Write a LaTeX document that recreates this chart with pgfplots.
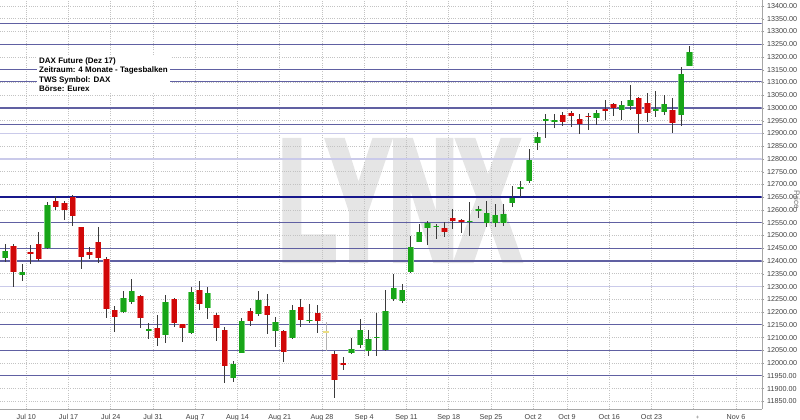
\documentclass[border=0pt]{standalone}
\usepackage{pgfplots}
\pgfplotsset{compat=1.18}
\usepackage{pgfplotstable}
\usepackage{graphicx}
\usepackage{fontspec}
\setmainfont{Liberation Sans}
\newfontfamily\wmfont[BoldFeatures={FakeBold=6}]{Liberation Sans}
\definecolor{upg}{RGB}{24,165,24}
\definecolor{upgl}{RGB}{120,210,120}
\definecolor{dnr}{RGB}{208,8,8}
\definecolor{dnrl}{RGB}{240,130,130}
\definecolor{wick}{RGB}{58,58,58}
\definecolor{neu}{RGB}{235,222,130}
\definecolor{lineMed}{RGB}{96,96,162}
\definecolor{lineDark}{RGB}{24,24,140}
\definecolor{lineLight}{RGB}{202,202,234}
\definecolor{gridc}{RGB}{195,195,195}
\definecolor{wm}{RGB}{229,229,229}

\pgfplotstableread{
x o h l c
-3 12412 12467 12395 12440
-1 12347 12389 12323 12357
2 12451 12630 12449 12620
11 12199 12282 12195 12254
12 12241 12330 12232 12283
14 12128 12157 12095 12132
16 12110 12268 12079 12241
19 12117 12297 12115 12280
21 12216 12297 12173 12275
24 11942 12007 11925 11997
25 12040 12177 12038 12165
27 12193 12282 12185 12246
29 12124 12180 12062 12160
31 12099 12226 12095 12210
33 12165 12232 12156 12169
38 12041 12098 12035 12054
39 12069 12173 12058 12130
40 12047 12128 12026 12095
41 12099 12196 12026 12103
42 12053 12287 12049 12206
43 12251 12350 12245 12293
44 12245 12310 12234 12287
45 12356 12497 12353 12454
46 12476 12546 12474 12513
47 12529 12556 12463 12548
48 12534 12546 12487 12538
52 12553 12630 12500 12557
53 12599 12615 12568 12603
54 12549 12637 12532 12589
55 12549 12624 12532 12582
56 12549 12624 12539 12585
57 12627 12695 12610 12649
58 12685 12714 12651 12689
59 12713 12841 12707 12798
60 12864 12905 12835 12886
61 12953 12975 12883 12957
62 12945 12977 12922 12952
67 12962 12992 12932 12979
70 12992 13026 12955 13010
71 13009 13090 12992 13030
74 12992 13066 12964 12996
75 12984 13053 12972 13017
77 12974 13162 12930 13133
78 13165 13244 13165 13218
}\upT

\pgfplotstableread{
x o h l c
-2 12458 12467 12300 12359
0 12437 12464 12389 12427
1 12467 12515 12402 12408
3 12636 12657 12602 12613
4 12627 12637 12559 12602
5 12650 12657 12539 12578
6 12532 12534 12369 12417
7 12434 12454 12406 12424
8 12476 12532 12391 12412
9 12408 12415 12176 12212
10 12207 12225 12123 12181
13 12261 12267 12138 12177
15 12138 12189 12066 12099
17 12251 12254 12143 12156
18 12153 12155 12082 12138
20 12288 12320 12210 12233
22 12190 12197 12088 12136
23 12130 12140 11922 11990
26 12204 12216 12147 12163
28 12223 12271 12115 12190
30 12125 12128 12006 12043
32 12219 12252 12143 12170
34 12196 12226 12118 12163
36 12034 12049 11862 11934
37 11999 12023 11973 11995
49 12529 12552 12493 12513
50 12568 12604 12526 12555
51 12558 12565 12510 12554
63 12971 12984 12929 12945
64 12979 12988 12926 12968
65 12955 12975 12899 12939
66 12970 12981 12913 12964
68 12994 13031 12952 12990
69 13016 13020 12968 13000
72 13040 13044 12902 12976
73 13020 13057 12945 12979
76 12994 13040 12902 12940
}\dnT

\pgfplotstableread{
x o h l c
35 12119 12160 12049 12123
}\neuT

\newcommand\wicks[2]{%
\addplot[draw=none,mark=none,forget plot,
  error bars/.cd, y dir=both, y explicit, error mark=none,
  error bar style={line width=1bp, draw=#2, solid}]
  table[x=x, y expr={(\thisrow{h}+\thisrow{l})/2},
        y error expr={(\thisrow{h}-\thisrow{l})/2}] {#1};}
\newcommand\bodies[3]{%
\addplot[draw=none,mark=none,forget plot,
  error bars/.cd, y dir=both, y explicit, error mark=none,
  error bar style={line width=#3, draw=#2, solid}]
  table[x=x, y expr={(\thisrow{o}+\thisrow{c})/2},
        y error expr={max(abs(\thisrow{c}-\thisrow{o})/2,3)}] {#1};}

\begin{document}
\begin{tikzpicture}
\node[text=wm, inner sep=0pt] at (399bp,208.5bp) {\resizebox{240bp}{115bp}{\wmfont\bfseries LYNX}};
\begin{axis}[
  at={(0,0)}, anchor=south west,
  scale only axis, width=761.7bp, height=409bp,
  xmin=-3.61, xmax=86.54, ymin=11819.8, ymax=13423.5,
  axis x line*=bottom, axis y line*=right,
  axis line style={draw=black!35, -},
  xtick={-0.5,4.5,9.5,14.5,19.5,24.5,29.5,34.5,39.5,44.5,49.5,54.5,59.5,63.5,68.5,73.5,78.5,83.5},
  xticklabels={Jul 10,Jul 17,Jul 24,Jul 31,Aug 7,Aug 14,Aug 21,Aug 28,Sep 4,Sep 11,Sep 18,Sep 25,Oct 2,Oct 9,Oct 16,Oct 23,{},Nov 6},
  ytick={11850,11900,...,13400},
  scaled y ticks=false,
  x tick style={draw=none},
  y tick style={draw=black!40},
  tick align=outside,
  major tick length=2.5bp,
  grid=major,
  grid style={draw=gridc, dash pattern=on 1bp off 1.2bp, line width=0.7bp},
  /pgf/number format/assume math mode=true,
  yticklabel={\pgfmathprintnumber[fixed, fixed zerofill, precision=2, 1000 sep={}]{\tick}},
  ticklabel style={font=\fontsize{7.2}{8}\selectfont, text=black!75},
  xticklabel style={yshift=0.5bp},
  yticklabel style={xshift=-0.5bp},
  extra x ticks={78.5},
  extra x tick labels={},
  extra x tick style={grid=none, major tick length=10bp, tick align=outside, tick style={draw=black!50, solid}},
]
% horizontal lines
\pgfplotsinvokeforeach{13330,13250,13150,13105,13000,12935,12550,12450,12400,12150,12050,11950}{
  \addplot[lineMed, line width=1.1bp, forget plot] coordinates {(-4,#1) (87,#1)};
}
\pgfplotsinvokeforeach{12900,12800,12300}{
  \addplot[lineLight, line width=1.8bp, forget plot] coordinates {(-4,#1) (87,#1)};
}
\addplot[lineDark, line width=1.8bp, forget plot] coordinates {(-4,12650) (87,12650)};

\node[anchor=north west, fill=white, inner xsep=2bp, inner ysep=1.5bp, align=left,
      font=\fontsize{8}{9.3}\selectfont\bfseries, text=black]
  at (rel axis cs:0.0486,0.863)
  {DAX Future (Dez 17)\\Zeitraum: 4 Monate - Tagesbalken\\TWS Symbol: DAX\\Börse: Eurex};

% candles
\wicks{\upT}{wick}
\wicks{\dnT}{wick}
\wicks{\neuT}{black!30}
\bodies{\upT}{upgl}{6.4bp}
\bodies{\dnT}{dnrl}{6.4bp}
\bodies{\upT}{upg}{5bp}
\bodies{\dnT}{dnr}{5bp}
\bodies{\neuT}{neu}{5.5bp}
\end{axis}
\node[rotate=-90, text=black!55, font=\fontsize{8}{9}\selectfont] at (797bp,209bp) {Price};
\node[text=black!55, font=\fontsize{6}{6}\selectfont, inner sep=0pt] at (697.5bp,-8.5bp) {+};
\pgfresetboundingbox
\useasboundingbox (0,-11bp) rectangle (800bp,409bp);
\end{tikzpicture}
\end{document}
